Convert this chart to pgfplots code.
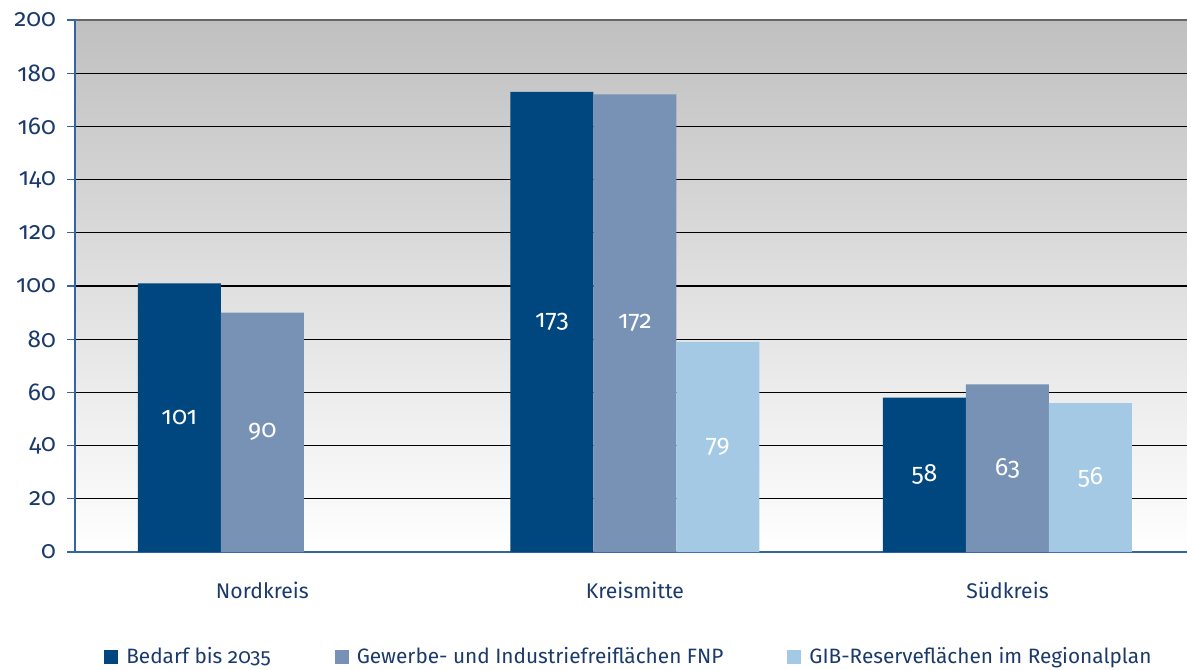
\documentclass[border=0pt]{standalone}
\usepackage{pgfplots}
\pgfplotsset{compat=1.18}
\usepackage{fontspec}
\setmainfont{Fira Sans}[Numbers=OldStyle]
\definecolor{cA}{HTML}{00467F}
\definecolor{cB}{HTML}{7892B5}
\definecolor{cC}{HTML}{A3C9E5}
\definecolor{txt}{HTML}{1B3A6B}
\definecolor{axc}{HTML}{3465A0}
\definecolor{bgtop}{HTML}{C0C0C0}
\pgfplotsset{sq/.style={legend image code/.code={\fill[##1] (0pt,-3.5pt) rectangle (7pt,3.5pt);}}}
\begin{document}
\begin{tikzpicture}[x=1pt,y=1pt]
\path[use as bounding box] (-37.5,-58.5) rectangle (556,276);
\begin{axis}[
  at={(0,0)}, anchor=south west,
  width=556pt, height=266pt, scale only axis,
  xmin=-0.503, xmax=2.482, ymin=0, ymax=200,
  ybar=0pt, bar width=0.2228,
  axis lines*=left,
  axis line style={draw=axc, line width=0.8pt},
  axis background/.style={shade, top color=bgtop, bottom color=white},
  xtick={0,1,2}, xticklabels={Nordkreis,Kreismitte,Südkreis},
  x tick label style={yshift=-7.5pt, font=\fontsize{10.6}{12}\selectfont},
  major x tick style={draw=none},
  extra x ticks={-0.503,0.5,1.5}, extra x tick labels={},
  extra x tick style={major tick length=4pt, tick style={draw=axc, line width=0.6pt}, grid=none},
  ytick={0,20,...,200},
  ytick style={draw=axc, line width=0.6pt},
  y tick label style={xshift=-2pt, font=\fontsize{12.2}{14}\selectfont},
  tick align=outside, major tick length=4pt,
  ymajorgrids, major grid style={black, line width=0.6pt},
  ticklabel style={color=txt},
  /pgf/number format/assume math mode=true,
  visualization depends on={y \as \rawy},
  nodes near coords,
  nodes near coords style={anchor=center, color=white, font=\fontsize{12.5}{14}\selectfont, shift={(axis direction cs:0,-\rawy/2)}},
  legend columns=-1,
  legend style={draw=none, fill=none, at={(rel axis cs:0.499,-0.197)}, anchor=center,
    font=\fontsize{10.4}{12}\selectfont\color{txt},
    /tikz/every odd column/.append style={column sep=2pt},
    /tikz/every even column/.append style={column sep=30pt}},
  legend cell align=left,
]
\addplot[fill=cA, draw=none, sq] coordinates {(0,101) (1,173) (2,58)};
\addplot[fill=cB, draw=none, sq] coordinates {(0,90) (1,172) (2,63)};
\addplot[fill=cC, draw=none, sq] coordinates {(1,79) (2,56)};
\legend{Bedarf bis 2035, Gewerbe- und Industriefreiflächen FNP, GIB-Reserveflächen im Regionalplan}
\draw[gray!80!black, line width=0.6pt] (rel axis cs:0,1) -- (rel axis cs:1,1);
\end{axis}
\end{tikzpicture}
\end{document}
